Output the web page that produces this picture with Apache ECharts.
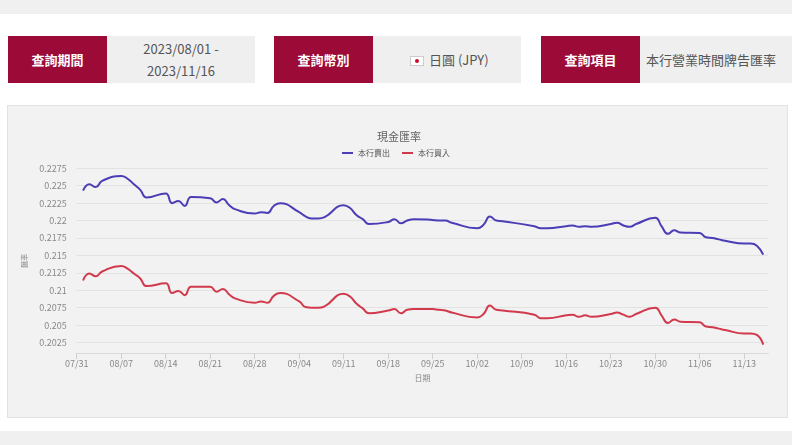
<!DOCTYPE html>
<html>
<head>
<meta charset="utf-8">
<script src="https://cdn.jsdelivr.net/npm/echarts@6/dist/echarts.min.js"></script>
<style>
  html, body { margin:0; padding:0; background:#fff; }
  body { width:792px; height:445px; position:relative; overflow:hidden; font-family:"Noto Sans CJK TC", "Noto Sans", sans-serif; }
  .band { position:absolute; left:0; width:792px; background:#f0f0f0; }
  .lbl { position:absolute; top:36px; height:47px; background:#9c0b38; color:#fff; font-weight:bold; font-size:13px; line-height:47px; text-align:center; }
  .val { position:absolute; top:36px; height:47px; background:#efefef; color:#555; font-size:13px; }
  .panel { position:absolute; left:7px; top:105px; width:781px; height:313px; background:#f2f2f2; border:1px solid #e2e2e2; box-sizing:border-box; }
  .flag { display:inline-block; width:12px; height:8px; background:#fff; border:1px solid #ccc; position:relative; vertical-align:-1px; margin-right:5px; }
  .flag i { position:absolute; left:4px; top:2px; width:4px; height:4px; border-radius:50%; background:#c8102e; }
  #chart { position:absolute; left:0; top:0; width:792px; height:445px; }
</style>
</head>
<body>
<div class="band" style="top:0;height:14px"></div>
<div class="lbl" style="left:8px;width:99px">查詢期間</div>
<div class="val" style="left:107px;width:148px;text-align:center;line-height:22px;padding-top:2px;box-sizing:border-box">2023/08/01 -<br>2023/11/16</div>
<div class="lbl" style="left:274px;width:99px">查詢幣別</div>
<div class="val" style="left:373px;width:148px;line-height:47px;padding-left:37px;box-sizing:border-box"><span class="flag"><i></i></span>日圓 (JPY)</div>
<div class="lbl" style="left:541px;width:99px">查詢項目</div>
<div class="val" style="left:640px;width:152px;line-height:47px;padding-left:6px;box-sizing:border-box">本行營業時間牌告匯率</div>
<div class="panel"></div>
<div class="band" style="top:431px;height:14px"></div>
<div id="chart"></div>
<script>
// 營業日 (MM/DD, 2023)
var dates = [
  '08/01','08/02','08/03','08/04',
  '08/07','08/08','08/09','08/10','08/11',
  '08/14','08/15','08/16','08/17','08/18',
  '08/21','08/22','08/23','08/24','08/25',
  '08/28','08/29','08/30','08/31','09/01',
  '09/04','09/05','09/06','09/07','09/08',
  '09/11','09/12','09/13','09/14','09/15',
  '09/18','09/19','09/20','09/21','09/22',
  '09/25','09/26','09/27','09/28',
  '10/02','10/03','10/04','10/05','10/06',
  '10/11','10/12','10/13',
  '10/16','10/17','10/18','10/19','10/20',
  '10/23','10/24','10/25','10/26','10/27',
  '10/30','10/31','11/01','11/02','11/03',
  '11/06','11/07','11/08','11/09','11/10',
  '11/13','11/14','11/15','11/16'
];
// 本行賣出
var sellRate = [
  0.2243,0.2252,0.2248,0.2257,
  0.2264,0.2260,0.2252,0.2244,0.2233,
  0.2239,0.2225,0.2228,0.2221,0.2234,
  0.2232,0.2226,0.2231,0.2222,0.2216,
  0.2210,0.2212,0.2211,0.2221,0.2225,
  0.2212,0.2206,0.2203,0.2203,0.2205,
  0.2222,0.2218,0.2208,0.2202,0.2195,
  0.2198,0.2202,0.2196,0.2200,0.2202,
  0.2201,0.2200,0.2200,0.2197,
  0.2189,0.2194,0.2206,0.2200,0.2199,
  0.2192,0.2189,0.2189,
  0.2192,0.2193,0.2191,0.2192,0.2191,
  0.2195,0.2197,0.2193,0.2191,0.2195,
  0.2204,0.2192,0.2181,0.2186,0.2183,
  0.2182,0.2176,0.2175,0.2173,0.2171,
  0.2167,0.2167,0.2164,0.2151
];
// 本行買入
var buyRate = [
  0.2114,0.2124,0.2120,0.2127,
  0.2135,0.2131,0.2124,0.2117,0.2106,
  0.2110,0.2096,0.2099,0.2093,0.2105,
  0.2105,0.2098,0.2102,0.2094,0.2088,
  0.2082,0.2084,0.2082,0.2092,0.2096,
  0.2084,0.2076,0.2075,0.2075,0.2077,
  0.2095,0.2091,0.2081,0.2074,0.2067,
  0.2071,0.2073,0.2067,0.2072,0.2073,
  0.2073,0.2072,0.2071,0.2068,
  0.2061,0.2066,0.2078,0.2072,0.2071,
  0.2065,0.2060,0.2060,
  0.2064,0.2065,0.2062,0.2064,0.2062,
  0.2066,0.2068,0.2065,0.2062,0.2066,
  0.2075,0.2064,0.2053,0.2058,0.2055,
  0.2054,0.2048,0.2047,0.2045,0.2043,
  0.2038,0.2038,0.2036,0.2022
];
var xTicks = ['07/31','08/07','08/14','08/21','08/28','09/04','09/11','09/18','09/25','10/02','10/09','10/16','10/23','10/30','11/06','11/13'];
var yTicks = [0.2025,0.205,0.2075,0.21,0.2125,0.215,0.2175,0.22,0.2225,0.225,0.2275];

var base = new Date(2023, 6, 31);
function dayIndex(s){
  var p = s.split('/');
  var d = new Date(2023, parseInt(p[0],10)-1, parseInt(p[1],10));
  return Math.round((d - base) / 86400000);
}
function dayLabel(n){
  var d = new Date(2023, 6, 31 + Math.round(n));
  var m = d.getMonth()+1, dd = d.getDate();
  return (m<10?'0':'')+m+'/'+(dd<10?'0':'')+dd;
}
var xTickDays = xTicks.map(dayIndex);
var sellData = dates.map(function(d,i){ return [dayIndex(d), sellRate[i]]; });
var buyData = dates.map(function(d,i){ return [dayIndex(d), buyRate[i]]; });

var font = '"Noto Sans CJK TC", "Noto Sans", sans-serif';
var chart = echarts.init(document.getElementById('chart'));
chart.setOption({
  animation:false,
  textStyle:{ fontFamily:font },
  title:{
    text:'現金匯率',
    left:394, textAlign:'center', top:126,
    textStyle:{ fontSize:11, color:'#666', fontWeight:'normal', fontFamily:font }
  },
  legend:{
    left:337, top:144,
    itemWidth:11, itemHeight:2, itemGap:12,
    icon:'rect',
    textStyle:{ fontSize:8, color:'#555', fontFamily:font },
    data:['本行賣出','本行買入']
  },
  grid:{ left:76.7, right:23.7, top:168.3, bottom:92 },
  xAxis:{
    type:'value', min:0, max:108.8,
    name:'日期', nameLocation:'middle', nameGap:21,
    nameTextStyle:{ fontSize:8, color:'#888' },
    axisLine:{ lineStyle:{ color:'#d8d8d8' } },
    axisTick:{ show:true, length:6, customValues:xTickDays, lineStyle:{ color:'#d0d0d0' } },
    axisLabel:{ customValues:xTickDays, margin:6, fontSize:9, color:'#888',
      formatter:function(v){ return dayLabel(v); } },
    splitLine:{ show:false }
  },
  yAxis:{
    type:'value', min:0.201, max:0.2275,
    name:'匯率', nameLocation:'middle', nameGap:43, nameRotate:90,
    nameTextStyle:{ fontSize:7, color:'#888' },
    axisLine:{ show:false },
    axisTick:{ show:false, customValues:yTicks },
    axisLabel:{ customValues:yTicks, margin:10, fontSize:9, color:'#888',
      formatter:function(v){ return String(+(+v).toFixed(4)); } },
    splitLine:{ show:true, lineStyle:{ color:'#e2e2e2', width:1 } }
  },
  series:[
    { name:'本行賣出', type:'line', data:sellData, smooth:true, symbol:'none',
      itemStyle:{ color:'#4b3db5' }, lineStyle:{ color:'#4b3db5', width:2 } },
    { name:'本行買入', type:'line', data:buyData, smooth:true, symbol:'none',
      itemStyle:{ color:'#d13a4c' }, lineStyle:{ color:'#d13a4c', width:2 } }
  ]
});
</script>
</body>
</html>
